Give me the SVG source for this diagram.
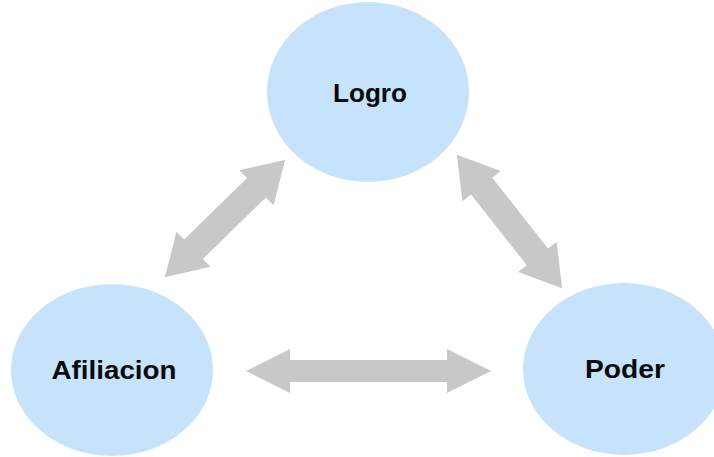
<svg xmlns="http://www.w3.org/2000/svg" width="714" height="457" viewBox="0 0 714 457">
<style>
.node{fill:#c6e3fb;stroke:none}
.lbl{font-family:"Liberation Sans",Arial,sans-serif;font-weight:bold;font-size:25px;fill:#0a0a0a;text-anchor:middle}
.arr{fill:#c8c8c8;stroke:none}
</style>
<rect width="714" height="457" fill="#ffffff"/>
<g id="connectors">
<path class="arr" transform="translate(368.5,371)" d="M -122.5,0 L -78.5,-22 L -78.5,-11 L 78.5,-11 L 78.5,-22 L 122.5,0 L 78.5,22 L 78.5,11 L -78.5,11 L -78.5,22 Z"/>
<path class="arr" transform="translate(225,218.5) rotate(-44.3)" d="M -84,0 L -44,-24.5 L -44,-13.5 L 44,-13.5 L 44,-24.5 L 84,0 L 44,24.5 L 44,13.5 L -44,13.5 L -44,24.5 Z"/>
<path class="arr" transform="translate(509.5,221.5) rotate(51.7)" d="M -85,0 L -45,-24.5 L -45,-13.5 L 45,-13.5 L 45,-24.5 L 85,0 L 45,24.5 L 45,13.5 L -45,13.5 L -45,24.5 Z"/>
</g>
<g id="logro">
<ellipse class="node" cx="368" cy="92" rx="101" ry="90"/>
<text class="lbl" x="370" y="102" textLength="74" lengthAdjust="spacingAndGlyphs">Logro</text>
</g>
<g id="afiliacion">
<ellipse class="node" cx="112" cy="370" rx="101" ry="86"/>
<text class="lbl" x="114" y="379" textLength="125" lengthAdjust="spacingAndGlyphs">Afiliacion</text>
</g>
<g id="poder">
<ellipse class="node" cx="624" cy="369" rx="101" ry="86"/>
<text class="lbl" x="625" y="378" textLength="80" lengthAdjust="spacingAndGlyphs">Poder</text>
</g>
</svg>
